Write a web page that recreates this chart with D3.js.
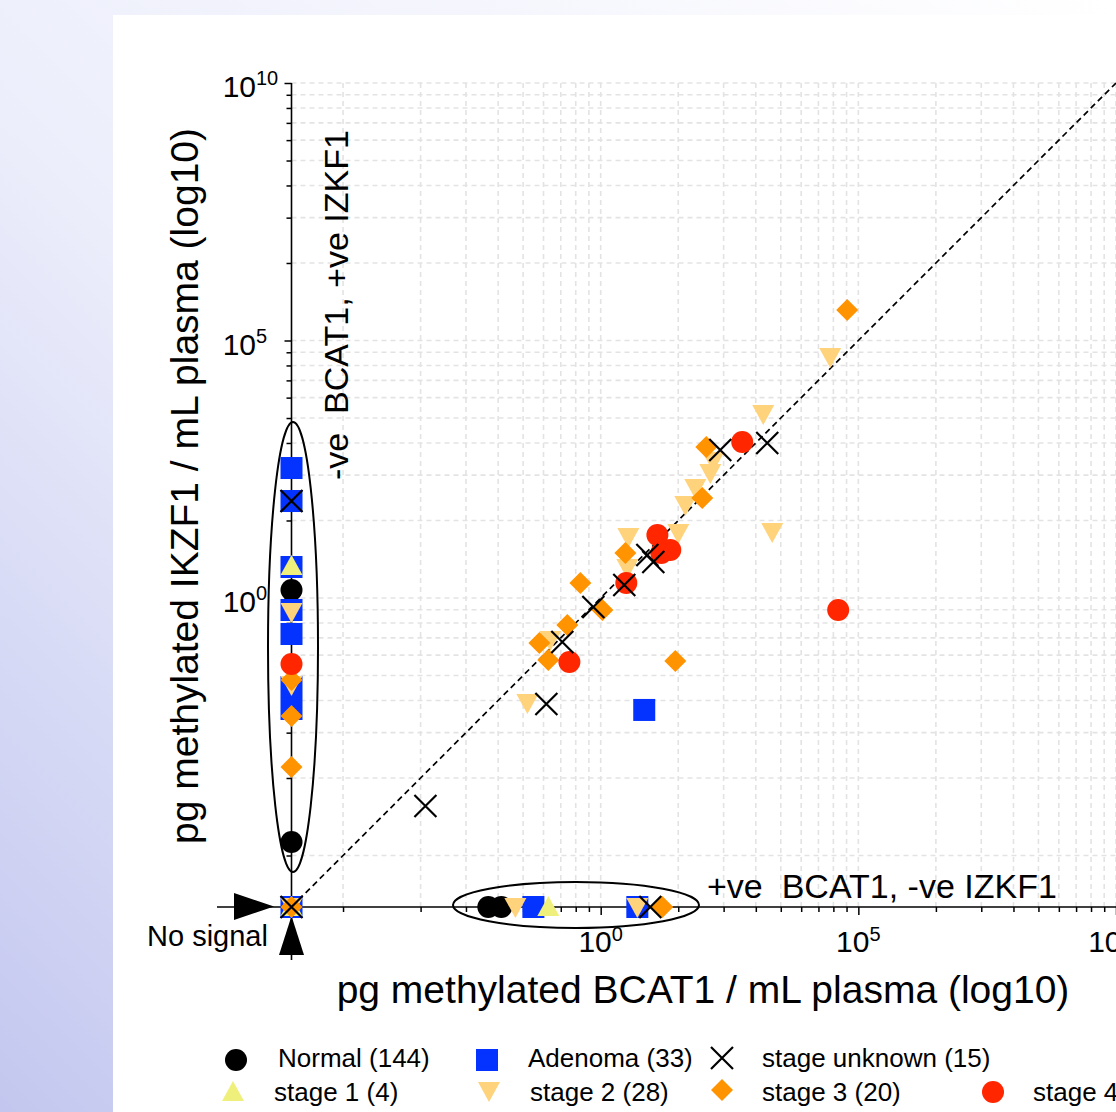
<!DOCTYPE html>
<html><head><meta charset="utf-8">
<script src="https://cdn.jsdelivr.net/npm/d3@7"></script>
<style>
body{margin:0;overflow:hidden;background:#fff;}
svg{display:block;font-family:"Liberation Sans",Arial,Helvetica,sans-serif;}
</style>
</head><body>
<svg id="chart" width="1116" height="1112"></svg>
<script>
// ---- data (pg methylated / mL plasma; 0 = no signal) : [BCAT1, IKZF1]
const categories = ["Normal (144)", "Adenoma (33)", "stage unknown (15)", "stage 1 (4)", "stage 2 (28)", "stage 3 (20)", "stage 4 (8)"];
const normal = [[0, 1.43], [0, 1.83e-5], [6.6e-3, 0], [1.18e-2, 0]];
const adenoma = [[0, 0], [0, 334], [0, 76.4], [0, 4.0], [0, 0.585], [0, 0.2], [0, 0.0187], [0, 7.0e-3],
  [0.0494, 0], [5.14, 0], [7.0, 6.7e-3]];
const stage1 = [[0, 0], [0, 4.18], [0.0964, 0]];
const stage2 = [[0, 0], [0, 0.535], [0, 0.0205], [0.0221, 0], [5.14, 0],
  [3.44, 15.3], [3.29, 3.83], [32.1, 18.3], [1426, 3741], [153, 457], [134, 267], [68.5, 137],
  [43.9, 64], [2133, 19.1], [28440, 47860], [0.0378, 9.14e-3], [0.105, 0.153]];
const stage3 = [[0, 0], [0, 0.0256], [0, 5.12e-3], [0, 5.22e-4], [15.7, 0],
  [0.403, 1.95], [3.01, 7.48], [1.08, 0.585], [0.225, 0.299], [0.0646, 0.134], [0.0964, 0.0625],
  [28.1, 0.0598], [112, 855], [93.5, 87.5], [60810, 390800]];
const stage4 = [[0, 0.0522], [12.6, 16.7], [15.0, 7.48], [22.4, 8.55], [3.14, 1.95], [0.247, 0.0571],
  [558, 1069], [40640, 0.585]];
const stageUnknown = [[0, 0], [0, 76.4], [8.04, 6.84], [10.5, 5.0], [2.87, 1.79], [0.72, 0.67], [0.18, 0.14],
  [0.0883, 8.75e-3], [209, 748], [1706, 1023], [3.97e-4, 9.14e-5], [9.18, 0]];
const majorTicks = [1, 1e5, 1e10];
const majorTickExp = ["0", "5", "10"];
const minorBase = [1e-5, 1, 1e5];
const minorMult = [2, 3, 4, 5, 6, 7, 8, 9];

// ---- layout
const svg = d3.select("#chart");
const W = 1116, H = 1112;
const x = d3.scaleLog().domain([1e-6, 1e10]).range([291.5, 1116]);
const y = d3.scaleLog().domain([1e-6, 1e10]).range([907, 83]);
const px = v => x(v > 0 ? v : 1e-6);
const py = v => y(v > 0 ? v : 1e-6);

// background
const defs = svg.append("defs");
const lg = defs.append("linearGradient").attr("id", "bg").attr("x1", "100%").attr("y1", "0%").attr("x2", "0%").attr("y2", "100%");
lg.append("stop").attr("offset", "0%").attr("stop-color", "#ffffff");
lg.append("stop").attr("offset", "55%").attr("stop-color", "#eceefb");
lg.append("stop").attr("offset", "100%").attr("stop-color", "#c3c7ef");
svg.append("rect").attr("width", W).attr("height", H).attr("fill", "url(#bg)");
svg.append("rect").attr("x", 113).attr("y", 15).attr("width", W - 113).attr("height", H - 15).attr("fill", "#fff");

// ticks
const minorTicks = [1e-5];
minorBase.forEach(b => minorMult.forEach(k => minorTicks.push(b * Math.pow(k, 5))));
const allTicks = minorTicks.concat(majorTicks);

// grid
const grid = svg.append("g").attr("stroke", "#e3e3e3").attr("stroke-width", 1.6).attr("stroke-dasharray", "5,4").attr("fill", "none");
allTicks.forEach(t => {
  grid.append("line").attr("x1", x(t)).attr("x2", x(t)).attr("y1", 83).attr("y2", 907);
  grid.append("line").attr("y1", y(t)).attr("y2", y(t)).attr("x1", 291.5).attr("x2", 1116);
});

// axes
const xAxis = d3.axisBottom(x).tickValues(allTicks).tickSize(0).tickFormat("");
const gx = svg.append("g").attr("transform", "translate(0,907)").call(xAxis);
gx.select(".domain").remove();
gx.selectAll(".tick line").attr("y2", d => majorTicks.includes(d) ? 8 : 5).attr("stroke", "#000").attr("stroke-width", 1.5);
const yAxis = d3.axisLeft(y).tickValues(allTicks).tickSize(0).tickFormat("");
const gy = svg.append("g").attr("transform", "translate(291.5,0)").call(yAxis);
gy.select(".domain").remove();
gy.selectAll(".tick line").attr("x2", d => majorTicks.includes(d) ? -7 : -5).attr("stroke", "#000").attr("stroke-width", 1.5);

svg.append("line").attr("x1", 217).attr("x2", 1116).attr("y1", 907).attr("y2", 907).attr("stroke", "#000").attr("stroke-width", 1.6);
svg.append("line").attr("x1", 291.5).attr("x2", 291.5).attr("y1", 83).attr("y2", 960).attr("stroke", "#000").attr("stroke-width", 1.6);

// tick labels
majorTicks.forEach((t, i) => {
  const yy = y(t);
  svg.append("text").attr("x", 256).attr("y", yy + 14).attr("text-anchor", "end").attr("font-size", 30).text("10");
  svg.append("text").attr("x", 256).attr("y", yy + 2).attr("font-size", 20).text(majorTickExp[i]);
  const g = svg.append("g");
  const b = g.append("text").attr("y", 952).attr("font-size", 30).text("10");
  const bw = b.node().getComputedTextLength();
  const s = g.append("text").attr("x", bw).attr("y", 941).attr("font-size", 20).text(majorTickExp[i]);
  const sw = s.node().getComputedTextLength();
  g.attr("transform", `translate(${x(t) - (bw + sw) / 2},0)`);
});

// identity line
svg.append("line").attr("x1", x(1e-6)).attr("y1", y(1e-6)).attr("x2", x(1e10)).attr("y2", y(1e10))
  .attr("stroke", "#000").attr("stroke-width", 1.7).attr("stroke-dasharray", "6,4");

// ellipses
svg.append("ellipse").attr("cx", 293).attr("cy", 647).attr("rx", 25).attr("ry", 225).attr("fill", "none").attr("stroke", "#000").attr("stroke-width", 2);
svg.append("ellipse").attr("cx", 576).attr("cy", 905).attr("rx", 123).attr("ry", 23).attr("fill", "none").attr("stroke", "#000").attr("stroke-width", 2);

// arrows + no signal
svg.append("path").attr("d", "M234,893 L274,906.5 L234,920 Z").attr("fill", "#000");
svg.append("path").attr("d", "M279,955 L291.5,916 L304,955 Z").attr("fill", "#000");
svg.append("text").attr("x", 147).attr("y", 946).attr("font-size", 29).text("No signal");

// annotations
svg.append("text").attr("x", 707).attr("y", 898).attr("font-size", 34).style("white-space", "pre").text("+ve  BCAT1, -ve IZKF1");
svg.append("text").attr("transform", "translate(348,480) rotate(-90)").attr("font-size", 34).style("white-space", "pre").text("-ve  BCAT1, +ve IZKF1");

// axis titles
svg.append("text").attr("x", 703).attr("y", 1003).attr("text-anchor", "middle").attr("font-size", 39).text("pg methylated BCAT1 / mL plasma (log10)");
svg.append("text").attr("transform", "translate(198,486) rotate(-90)").attr("text-anchor", "middle").attr("font-size", 39).text("pg methylated IKZF1 / mL plasma (log10)");

// markers
const shapes = {
  circle: (g, c) => g.append("circle").attr("r", 11).attr("fill", c),
  square: (g, c) => g.append("rect").attr("x", -11).attr("y", -11).attr("width", 22).attr("height", 22).attr("fill", c),
  triUp: (g, c) => g.append("path").attr("d", "M-11,9 L0,-11 L11,9 Z").attr("fill", c),
  triDown: (g, c) => g.append("path").attr("d", "M-11,-9 L0,11 L11,-9 Z").attr("fill", c),
  diamond: (g, c) => g.append("path").attr("d", "M0,-11 L11,0 L0,11 L-11,0 Z").attr("fill", c),
  cross: (g, c) => g.append("path").attr("d", "M-11,-11 L11,11 M-11,11 L11,-11").attr("stroke", c).attr("stroke-width", 2.2).attr("fill", "none")
};
const series = [
  {data: normal, shape: "circle", color: "#000000"},
  {data: adenoma, shape: "square", color: "#0433ff"},
  {data: stage1, shape: "triUp", color: "#eff07c"},
  {data: stage2, shape: "triDown", color: "#ffd27c"},
  {data: stage3, shape: "diamond", color: "#ff9300"},
  {data: stage4, shape: "circle", color: "#ff2600"},
  {data: stageUnknown, shape: "cross", color: "#000000"}
];
series.forEach(s => {
  s.data.forEach(d => {
    const g = svg.append("g").attr("transform", `translate(${px(d[0])},${py(d[1])})`);
    shapes[s.shape](g, s.color);
  });
});

// legend
const legendItems = [
  {cat: 0, s: 0, mx: 236, tx: 278, my: 1060, ty: 1067},
  {cat: 1, s: 1, mx: 487, tx: 528, my: 1060, ty: 1067},
  {cat: 2, s: 6, mx: 722, tx: 762, my: 1058, ty: 1067},
  {cat: 3, s: 2, mx: 233, tx: 274, my: 1092, ty: 1101},
  {cat: 4, s: 3, mx: 489, tx: 530, my: 1091, ty: 1101},
  {cat: 5, s: 4, mx: 722, tx: 762, my: 1090, ty: 1101},
  {cat: 6, s: 5, mx: 993, tx: 1033, my: 1092, ty: 1101}
];
legendItems.forEach(it => {
  const g = svg.append("g").attr("transform", `translate(${it.mx},${it.my})`);
  shapes[series[it.s].shape](g, series[it.s].color);
  svg.append("text").attr("x", it.tx).attr("y", it.ty).attr("font-size", 26).text(categories[it.cat]);
});
</script>
</body></html>
